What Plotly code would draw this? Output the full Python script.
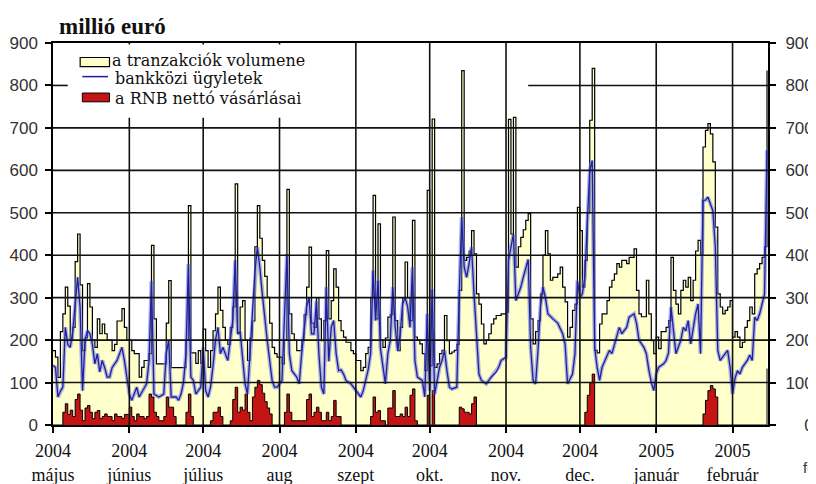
import pandas as pd
import plotly.graph_objects as go

START = pd.Timestamp("2004-05-01")

# day offsets from 2004-05-01 and values (millió euró)
vol_day = [0, 1, 2, 3, 4, 5, 6, 7, 8, 9, 10, 11, 12, 13, 14, 15, 16, 17, 18, 19, 20, 21, 22, 24, 25, 26, 28, 29, 30, 32, 33, 35, 36, 37, 39, 40, 41, 42, 46, 47, 48,
           54, 55, 56, 58, 59, 60, 61, 62, 63, 64, 65, 66, 67, 68, 69, 70, 71, 72, 73, 74, 75, 76, 77, 78, 79, 80, 81, 82, 83, 84, 85, 86, 87, 88, 89, 90, 91, 93, 94, 95,
           96, 97, 98, 99, 101, 102, 103, 104, 105, 106, 107, 108, 109, 110, 111, 112, 113, 114, 115, 116, 117, 118, 119, 121, 122, 123, 125, 126, 127, 128, 129, 130, 131, 132, 133, 134, 135, 136, 137, 138, 139, 140, 141, 142, 143, 144, 145,
           146, 147, 148, 149, 150, 151, 152, 153, 154, 155, 156, 157, 158, 159, 160, 161, 162, 163, 164, 165, 166, 167, 168, 169, 170, 171, 172, 173, 174, 175, 176, 177, 178, 179, 180, 182, 184, 185, 186, 187, 188, 189, 190, 191, 192, 193,
           194, 195, 196, 197, 198, 199, 200, 201, 202, 203, 205, 206, 207, 208, 209, 210, 211, 212, 213, 214, 215, 216, 217, 218, 219, 220, 221, 222, 223, 225, 226, 227, 228, 229, 230, 231, 233, 234, 236, 237, 238, 239, 241, 242,
           243, 244, 245, 246, 247, 249, 250, 251, 252, 253, 254, 255, 256, 257, 258, 259, 260, 261, 262, 263, 264, 265, 266, 267, 268, 269, 270, 271, 272, 273, 274, 275, 276, 277, 278, 279, 280, 281, 282, 283, 284, 285, 286, 287, 288, 289, 290]
vol_val = [175, 160, 112, 220, 262, 325, 280, 200, 230, 385, 450, 330, 175, 205, 333, 278, 200, 183, 250, 215, 238, 215, 200, 175, 190, 245, 274, 230, 200, 175, 168, 113, 136, 152, 168, 423, 250, 144, 240, 340, 135,
           200, 517, 170, 145, 175, 145, 226, 175, 136, 175, 222, 262, 325, 270, 230, 200, 190, 230, 278, 568, 215, 278, 293, 200, 152, 205, 245, 420, 517, 440, 388, 350, 301, 240, 183, 168, 160, 144, 200, 555,
           262, 215, 200, 175, 199, 260, 325, 419, 240, 230, 300, 250, 199, 246, 411, 250, 293, 368, 325, 246, 222, 207, 195, 175, 168, 152, 128, 136, 168, 183, 300, 541, 250, 474, 200, 183, 205, 254, 260, 490, 246, 175, 230, 300, 384, 300, 246,
           482, 207, 200, 191, 168, 128, 553, 140, 721, 136, 144, 168, 176, 258, 199, 168, 172, 176, 190, 317, 835, 388, 395, 410, 458, 403, 309, 285, 238, 191, 200, 215, 238, 250, 258, 262, 266, 720, 450, 725, 372, 420, 442, 460, 482, 498,
           250, 191, 220, 246, 309, 400, 458, 403, 341, 348, 356, 372, 325, 290, 207, 230, 270, 285, 513, 458, 325, 388, 500, 718, 840, 176, 170, 238, 262, 293, 325, 341, 356, 380, 372, 388, 380, 395, 415, 317, 262, 255, 341, 262,
           199, 168, 207, 180, 220, 230, 246, 395, 317, 285, 262, 317, 341, 325, 348, 293, 341, 410, 435, 400, 655, 694, 710, 686, 620, 466, 309, 278, 262, 270, 278, 293, 207, 220, 207, 183, 195, 230, 246, 278, 262, 356, 368, 380, 395, 420, 835]

ib_day = [0, 1, 2, 3, 4, 5, 6, 7, 8, 9, 10, 11, 12, 13, 14, 15, 16, 17, 18, 19, 20, 21, 22, 23, 24, 26, 27, 28, 29, 30, 31, 32, 34, 35, 37, 38, 39, 40, 41, 43, 45, 46, 47,
          48, 50, 51, 52, 53, 54, 55, 56, 57, 58, 60, 61, 62, 63, 64, 65, 66, 67, 68, 69, 71, 72, 73, 74, 75, 76, 77, 78, 79, 80, 81, 82, 83, 84, 85, 86, 87, 88, 89, 90, 91, 93, 94, 95,
          96, 97, 99, 100, 101, 102, 103, 104, 105, 106, 107, 108, 109, 110, 111, 112, 113, 114, 115, 116, 117, 118, 119, 121, 122, 123, 125, 126, 127, 128, 129, 130, 131, 132, 133, 134, 135, 136, 137, 138, 139, 140, 141, 142, 143, 144, 145,
          146, 147, 148, 150, 151, 152, 153, 154, 155, 156, 157, 158, 159, 160, 161, 162, 164, 165, 166, 167, 168, 169, 170, 171, 172, 173, 174, 176, 177, 178, 180, 181, 182, 184, 185, 186, 187, 188, 190, 191, 192, 193,
          194, 195, 196, 197, 198, 199, 200, 201, 203, 204, 205, 207, 208, 209, 211, 212, 213, 214, 215, 216, 217, 218, 219, 220, 221, 222, 223, 225, 226, 227, 229, 230, 231, 233, 234, 236, 237, 238, 240, 241, 242,
          243, 244, 245, 246, 247, 248, 249, 250, 251, 252, 253, 255, 256, 257, 258, 259, 260, 261, 262, 263, 264, 265, 266, 267, 268, 269, 270, 271, 272, 274, 275, 276, 277, 278, 279, 280, 282, 283, 284, 285, 286, 287, 288, 289, 290]
ib_val = [140, 136, 66, 80, 89, 230, 190, 183, 220, 278, 348, 278, 81, 200, 222, 215, 190, 144, 168, 125, 152, 135, 113, 113, 135, 152, 168, 183, 152, 113, 73, 58, 89, 66, 89, 97, 150, 340, 73, 66, 73, 168, 200,
          66, 66, 58, 73, 100, 168, 380, 113, 105, 73, 89, 183, 81, 66, 90, 140, 200, 230, 168, 183, 152, 200, 246, 388, 215, 220, 152, 97, 73, 168, 246, 360, 419, 372, 309, 246, 200, 152, 105, 89, 89, 105, 250, 403,
          168, 128, 113, 97, 168, 230, 278, 301, 215, 215, 293, 168, 89, 73, 325, 150, 230, 246, 168, 128, 130, 120, 105, 97, 89, 81, 66, 81, 105, 130, 168, 364, 246, 340, 180, 144, 97, 168, 200, 325, 230, 175, 215, 285, 300, 280, 230,
          372, 152, 113, 105, 66, 262, 80, 320, 73, 105, 136, 152, 176, 128, 89, 85, 89, 309, 490, 372, 348, 380, 419, 309, 200, 120, 105, 97, 105, 113, 125, 136, 152, 160, 388, 419, 450, 293, 325, 348, 372, 390,
          183, 105, 97, 176, 280, 325, 300, 262, 250, 246, 240, 215, 190, 97, 120, 168, 340, 300, 309, 348, 460, 600, 623, 183, 136, 105, 136, 160, 176, 168, 207, 230, 215, 230, 254, 262, 240, 200, 183, 168, 130,
          100, 81, 120, 136, 140, 144, 152, 170, 278, 230, 168, 200, 230, 222, 246, 191, 230, 262, 285, 168, 529, 530, 537, 520, 505, 420, 176, 152, 160, 176, 136, 73, 110, 128, 120, 136, 152, 165, 152, 254, 246, 262, 285, 309, 647]

rnb_day = [0, 3, 4, 5, 6, 7, 8, 9, 10, 11, 12, 13, 14, 15, 16, 17, 18, 19, 20, 21, 22, 24, 25, 26, 28, 29, 31, 32, 33, 34, 35, 37, 38, 39, 40, 41, 42, 43, 45, 46, 47, 49, 50,
           54, 55, 56, 57, 63, 64, 65, 67, 68, 69,
           72, 73, 74, 75, 76, 77, 78, 79, 80, 81, 82, 83, 84, 85, 86, 87, 88, 89,
           93, 94, 95, 96, 97, 99, 101, 103, 104, 105, 106, 107, 108, 109, 111, 112, 113, 114, 115, 117,
           128, 129, 130, 131, 132, 133, 135, 136, 138, 139, 140, 141, 142, 143, 144, 145, 146, 147, 148,
           152, 153, 154, 155, 165, 166, 167, 168, 169, 170, 171, 172,
           216, 217, 218, 219, 220, 264, 265, 266, 267, 268, 269, 270, 289, 290]
rnb_val = [0, 0, 30, 50, 25, 35, 20, 60, 73, 35, 10, 40, 46, 30, 15, 30, 34, 15, 20, 26, 20, 10, 26, 20, 15, 25, 42, 20, 10, 26, 20, 15, 20, 73, 66, 30, 20, 10, 20, 66, 42, 20, 0,
           30, 73, 20, 0, 0, 10, 30, 42, 20, 0,
           10, 60, 89, 30, 42, 35, 73, 30, 10, 66, 89, 105, 95, 75, 55, 40, 26, 0,
           0, 30, 73, 30, 10, 10, 10, 60, 73, 20, 30, 42, 30, 10, 30, 10, 20, 58, 20, 0,
           0, 20, 66, 30, 34, 10, 0, 40, 81, 20, 20, 26, 20, 42, 20, 70, 85, 10, 0,
           70, 0, 81, 0, 42, 38, 30, 30, 26, 50, 66, 0,
           30, 70, 100, 120, 0, 26, 58, 81, 93, 85, 66, 0, 0, 133]

month_ticks = ["2004-05-01", "2004-06-01", "2004-07-01", "2004-08-01", "2004-09-01",
               "2004-10-01", "2004-11-01", "2004-12-01", "2005-01-01", "2005-02-01"]
month_labels = ["2004<br>május", "2004<br>június", "2004<br>július", "2004<br>aug", "2004<br>szept",
                "2004<br>okt.", "2004<br>nov.", "2004<br>dec.", "2005<br>január", "2005<br>február"]
y_ticks = [0, 100, 200, 300, 400, 500, 600, 700, 800, 900]
y_right_labels = ["\u2007\u20070", "100", "200", "300", "400", "500", "600", "700", "800", "900"]

series_names = ["a tranzakciók volumene", "bankközi ügyletek", "a RNB nettó vásárlásai"]
VOL_FILL = "#ffffcc"
RNB_FILL = "#c41414"
IB_COLOR = "#1f1f9e"


def to_dates(days):
    return [START + pd.Timedelta(days=d) for d in days]


fig = go.Figure()
fig.add_trace(go.Scatter(
    x=to_dates(vol_day), y=vol_val, mode="lines", name=series_names[0], showlegend=False,
    line=dict(color="black", width=1.2, shape="hv"), fill="tozeroy", fillcolor=VOL_FILL))
fig.add_trace(go.Scatter(
    x=to_dates(rnb_day), y=rnb_val, mode="lines", name=series_names[2], showlegend=False,
    line=dict(color="black", width=1, shape="hv"), fill="tozeroy", fillcolor=RNB_FILL))
fig.add_trace(go.Scatter(
    x=to_dates(ib_day), y=ib_val, mode="lines", yaxis="y2", showlegend=False, hoverinfo="skip",
    line=dict(color="rgba(110,120,225,0.55)", width=4)))
fig.add_trace(go.Scatter(
    x=to_dates(ib_day), y=ib_val, mode="lines", yaxis="y2", name=series_names[1], showlegend=False,
    line=dict(color=IB_COLOR, width=1.3)))

shapes = []
grid = dict(color="#111111", width=1.6)
for v in y_ticks[1:8]:
    shapes.append(dict(type="line", xref="paper", x0=0, x1=1, yref="y", y0=v, y1=v, line=grid, layer="above"))
shapes.append(dict(type="line", xref="x", x0=START + pd.Timedelta(days=193), x1=START + pd.Timedelta(days=290.4),
                   yref="y", y0=800, y1=800, line=grid, layer="above"))
for m in month_ticks[1:]:
    shapes.append(dict(type="line", xref="x", x0=m, x1=m, yref="paper", y0=0, y1=1, line=grid, layer="above"))

# legend box (white panel with symbols)
shapes.append(dict(type="rect", xref="paper", yref="paper", x0=0.003, x1=0.41, y0=0.804, y1=0.996,
                   fillcolor="white", line=dict(width=0), layer="above"))
shapes.append(dict(type="line", xref="x", x0=START, x1=START + pd.Timedelta(days=6),
                   yref="y", y0=800, y1=800, line=grid, layer="above"))
shapes.append(dict(type="rect", xref="paper", yref="paper", x0=0.038, x1=0.079, y0=0.938, y1=0.962,
                   fillcolor=VOL_FILL, line=dict(color="black", width=1.2), layer="above"))
shapes.append(dict(type="line", xref="paper", yref="paper", x0=0.041, x1=0.077, y0=0.912, y1=0.912,
                   line=dict(color=IB_COLOR, width=1.5), layer="above"))
shapes.append(dict(type="rect", xref="paper", yref="paper", x0=0.041, x1=0.079, y0=0.846, y1=0.869,
                   fillcolor=RNB_FILL, line=dict(color="black", width=1), layer="above"))

axis_font = dict(family="Liberation Sans, Arial, sans-serif", size=17, color="#333333")
legend_font = dict(family="DejaVu Serif", size=16, color="#111111")

fig.update_layout(
    width=808, height=476,
    margin=dict(l=45, r=48, t=35, b=59, autoexpand=False),
    paper_bgcolor="white", plot_bgcolor="white",
    showlegend=False,
    xaxis=dict(type="date", range=[START, START + pd.Timedelta(days=290.4)], automargin=False,
               tickmode="array", tickvals=month_ticks, ticktext=month_labels,
               ticks="outside", ticklen=6, tickwidth=1.5, tickcolor="black",
               showline=True, linecolor="black", linewidth=1.5, mirror=True,
               showgrid=False, zeroline=False, ticklabelstandoff=3,
               tickfont=dict(family="Liberation Serif, Times New Roman, serif", size=18, color="#111111")),
    yaxis=dict(range=[0, 900], tickmode="array", tickvals=y_ticks, automargin=False,
               ticks="outside", ticklen=6, tickwidth=1.5, tickcolor="black",
               showline=True, linecolor="black", linewidth=1.5, mirror=True,
               showgrid=False, zeroline=False, ticklabelstandoff=4, tickfont=axis_font),
    yaxis2=dict(range=[0, 900], overlaying="y", side="right", tickmode="array", automargin=False,
                tickvals=y_ticks, ticktext=y_right_labels,
                ticks="outside", ticklen=7, tickwidth=1.5, tickcolor="black",
                showline=False, showgrid=False, zeroline=False, ticklabelstandoff=6,
                tickfont=axis_font),
    shapes=shapes,
    annotations=[
        dict(text="<b>millió euró</b>", xref="paper", yref="paper", x=0.006, y=1.044,
             xanchor="left", yanchor="middle", showarrow=False,
             font=dict(family="Liberation Serif, Times New Roman, serif", size=23, color="#111111")),
        dict(text=series_names[0], xref="paper", yref="paper", x=0.081, y=0.954,
             xanchor="left", yanchor="middle", showarrow=False, font=legend_font, borderpad=0),
        dict(text=series_names[1], xref="paper", yref="paper", x=0.085, y=0.906,
             xanchor="left", yanchor="middle", showarrow=False, font=legend_font, borderpad=0),
        dict(text=series_names[2], xref="paper", yref="paper", x=0.085, y=0.856,
             xanchor="left", yanchor="middle", showarrow=False, font=legend_font, borderpad=0),
        dict(text="fo", xref="paper", yref="paper", x=1.046, y=-0.11,
             xanchor="left", yanchor="middle", showarrow=False,
             font=dict(family="Liberation Sans, Arial, sans-serif", size=15, color="#333333")),
    ],
)

fig.write_html("out.html")
